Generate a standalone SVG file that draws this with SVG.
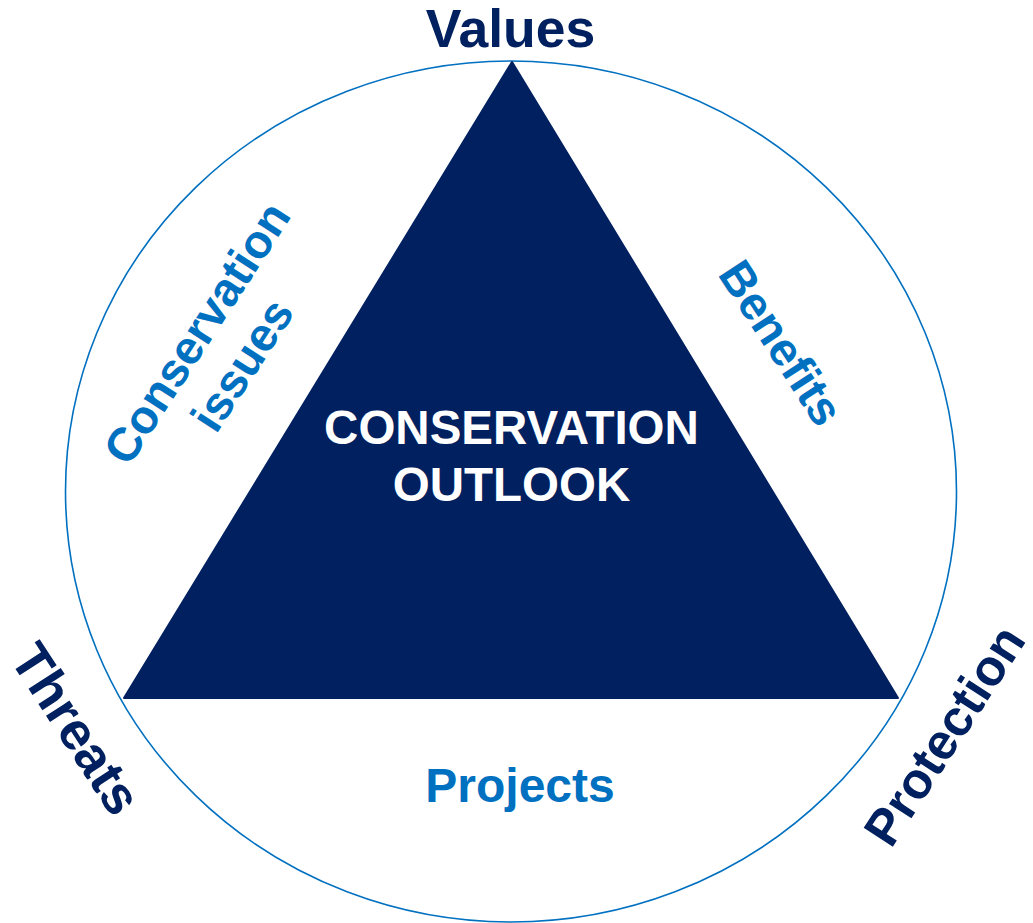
<svg xmlns="http://www.w3.org/2000/svg" width="1033" height="923" viewBox="0 0 1033 923">
<style>
.t{font-family:"Liberation Sans",Arial,sans-serif;font-weight:bold;text-anchor:middle}
.navy{fill:#012060}
.blue{fill:#0070C0}
.white{fill:#ffffff}
</style>
<rect width="1033" height="923" fill="#ffffff"/>
<g id="circle">
<ellipse cx="511" cy="491.5" rx="445.5" ry="430.5" fill="none" stroke="#0070C0" stroke-width="1.6"/>
</g>
<g id="triangle">
<polygon points="512,62 124,698 898,698" fill="#012060" stroke="#012060" stroke-width="2" stroke-linejoin="round"/>
<text class="t white" x="511.5" y="444" font-size="47.5">CONSERVATION</text>
<text class="t white" x="511.5" y="501" font-size="47.5">OUTLOOK</text>
</g>
<g id="values"><text class="t navy" x="510.5" y="47" font-size="53.5">Values</text></g>
<g id="threats"><text class="t navy" font-size="53" transform="translate(76,729) rotate(57)" x="0" y="18">Threats</text></g>
<g id="protection"><text class="t navy" font-size="50.5" transform="translate(944,735) rotate(-57)" x="0" y="18">Protection</text></g>
<g id="conservation-issues">
<text class="t blue" font-size="47" transform="translate(197,333) rotate(-57)" x="0" y="16">Conservation</text>
<text class="t blue" font-size="47" transform="translate(244,366) rotate(-57)" x="0" y="14">issues</text>
</g>
<g id="benefits"><text class="t blue" font-size="47" transform="translate(781,343) rotate(57)" x="0" y="16">Benefits</text></g>
<g id="projects"><text class="t blue" x="520" y="802" font-size="48">Projects</text></g>
</svg>
